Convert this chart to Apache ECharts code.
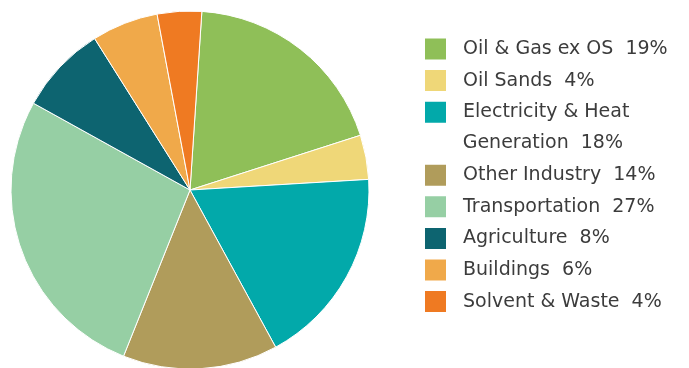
<!DOCTYPE html>
<html>
<head>
<meta charset="utf-8">
<script src="https://cdn.jsdelivr.net/npm/echarts@6/dist/echarts.min.js"></script>
<style>
html,body{margin:0;padding:0;background:#fff;}
#c{width:689px;height:368px;}
</style>
</head>
<body>
<div id="c"></div>
<script>
const categories = ['Oil & Gas ex OS', 'Oil Sands', 'Electricity & Heat Generation', 'Other Industry', 'Transportation', 'Agriculture', 'Buildings', 'Solvent & Waste'];
const legendNames = ['Oil & Gas ex OS', 'Oil Sands', 'Electricity & Heat', 'Other Industry', 'Transportation', 'Agriculture', 'Buildings', 'Solvent & Waste'];
const values = [19, 4, 18, 14, 27, 8, 6, 4];
const colors = ['#8fbf58', '#efd778', '#02a9aa', '#b09c5b', '#96cfa4', '#0d6470', '#f0a94a', '#ef7a22'];

const chart = echarts.init(document.getElementById('c'), null, {renderer: 'canvas'});
const FONT = 'DejaVu Sans';
const textStyle = {fontFamily: FONT, fontSize: 19, fontWeight: 'normal', color: '#3c3c3c', lineHeight: 23, padding: [0, 0, 0, 11]};

function fmt(name) {
  const i = categories.indexOf(name);
  if (i === 2) return legendNames[2];
  return legendNames[i] + '  ' + values[i] + '%';
}

const legendCommon = {
  orient: 'vertical', left: 423, itemWidth: 23, itemHeight: 23, itemGap: 6.6, padding: 0,
  icon: 'rect', selectedMode: false, formatter: fmt, textStyle: textStyle
};

chart.setOption({
  animation: false,
  color: colors,
  legend: [
    Object.assign({}, legendCommon, {top: 36.5, data: categories.slice(0, 3)}),
    Object.assign({}, legendCommon, {top: 162.7, data: categories.slice(3)})
  ],
  graphic: [{
    type: 'text', left: 462.7, top: 132,
    style: {text: 'Generation  ' + values[2] + '%', fontFamily: FONT, fontSize: 19, fontWeight: 'normal', fill: '#3c3c3c', lineHeight: 23}
  }],
  series: [{
    type: 'pie',
    center: [190, 190],
    radius: 179,
    startAngle: 86.2,
    clockwise: true,
    label: {show: false},
    labelLine: {show: false},
    emphasis: {disabled: true},
    itemStyle: {borderColor: '#fff', borderWidth: 1},
    data: categories.map((c, i) => ({name: c, value: values[i]}))
  }]
});
</script>
</body>
</html>
